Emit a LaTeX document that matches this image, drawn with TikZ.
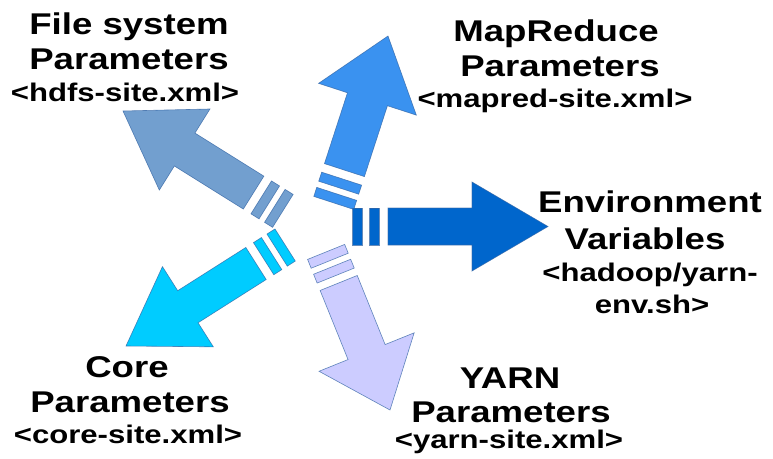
\documentclass[tikz,border=0pt]{standalone}
\usepackage{fontspec}
\newfontfamily\labfont{Liberation Sans}[FakeStretch=1.22]
\definecolor{fsblue}{HTML}{729FCF}
\definecolor{mrblue}{HTML}{3A92F0}
\definecolor{envblue}{HTML}{0066CC}
\definecolor{coreblue}{HTML}{00CCFF}
\definecolor{yarnblue}{HTML}{CCCCFF}
\definecolor{edgeblue}{HTML}{3465A4}
% #1 fill colour, #2 tip, #3 angle, #4 head length, #5 head half width,
% #6 body half width, #7 body end, #8 near stripe start, #9 far stripe start
\newcommand\stripedarrow[9]{%
  \begin{scope}[shift={#2}, rotate=#3]
    \path[arrowpart, fill=#1] (0,0) -- (-#4,#5) -- (-#4,#6) -- (-#7,#6)
      -- (-#7,-#6) -- (-#4,-#6) -- (-#4,-#5) -- cycle;
    \path[arrowpart, fill=#1] (-#8,#6) rectangle ++(-9.5,-2*#6);
    \path[arrowpart, fill=#1] (-#9,#6) rectangle ++(-9.5,-2*#6);
  \end{scope}}
\tikzset{
  arrowpart/.style={draw=edgeblue, draw opacity=0.75, line width=0.6pt, line join=miter},
  head/.style={anchor=base, inner sep=0pt, font=\labfont\bfseries\fontsize{30}{36}\selectfont},
  file/.style={anchor=base, inner sep=0pt, font=\labfont\bfseries\fontsize{25.5}{30}\selectfont}
}
\begin{document}
\begin{tikzpicture}[x=1pt, y=-1pt]
  \useasboundingbox (0,0) rectangle (773,458);
  \fill[white] (0,0) rectangle (773,458);

  % arrows
  \stripedarrow{fsblue}{(123,111)}{148}{72.7}{47.8}{19.4}{154}{163}{179}
  \stripedarrow{mrblue}{(388,36)}{72}{66.5}{51.4}{21}{141}{150}{166}
  \stripedarrow{envblue}{(548,226.5)}{0}{76}{44.5}{18.5}{160}{169}{186}
  \stripedarrow{coreblue}{(126,346)}{212.4}{73.3}{47.5}{19}{154}{163}{179}
  \stripedarrow{yarnblue}{(390,410)}{-68}{62.5}{51.3}{20}{137}{145}{161}

  % labels
  \node[head] (fs1) at (129,34) {File system};
  \node[head] (fs2) at (129,69) {Parameters};
  \node[file] (fs3) at (125,101) {<hdfs-site.xml>};

  \node[head] (mr1) at (556,41) {MapReduce};
  \node[head] (mr2) at (560,76) {Parameters};
  \node[file] (mr3) at (555,107) {<mapred-site.xml>};

  \node[head] (en1) at (650,212) {Environment};
  \node[head] (en2) at (645,249) {Variables};
  \node[file] (en3) at (650,281) {<hadoop/yarn-};
  \node[file] (en4) at (652,313) {env.sh>};

  \node[head] (co1) at (127,377) {Core};
  \node[head] (co2) at (130,412) {Parameters};
  \node[file] (co3) at (128,443) {<core-site.xml>};

  \node[head] (ya1) at (510,388) {YARN};
  \node[head] (ya2) at (511,422) {Parameters};
  \node[file] (ya3) at (509,448) {<yarn-site.xml>};
\end{tikzpicture}
\end{document}
